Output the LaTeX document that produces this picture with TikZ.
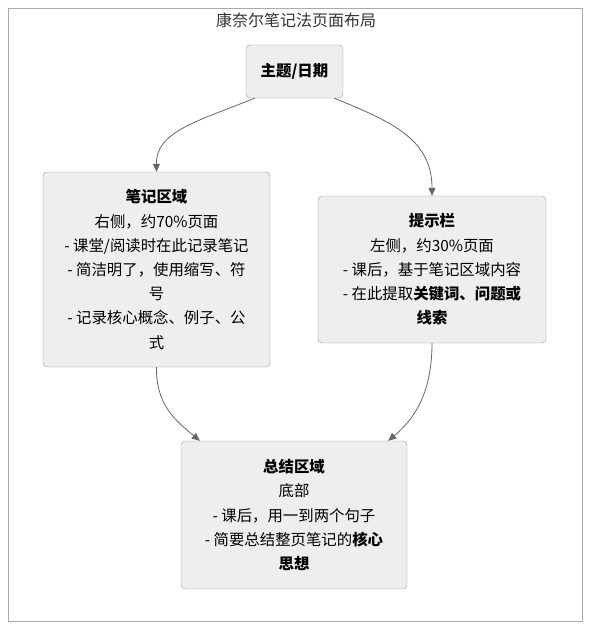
\documentclass[tikz,border=0pt]{standalone}
\usepackage{fontspec}
\setmainfont{Noto Sans CJK SC}
\usetikzlibrary{arrows.meta}
\definecolor{boxfill}{HTML}{EEEEEE}
\definecolor{boxline}{HTML}{999999}
\definecolor{framec}{HTML}{AAAAAA}
\definecolor{linec}{HTML}{666666}
\definecolor{titlec}{HTML}{333333}
\tikzset{
  box/.style={draw=boxline, fill=boxfill, rounded corners=4pt, align=center, inner sep=0pt,
    font=\fontsize{15.4}{24.2}\selectfont, text=black},
  arr/.style={draw=linec, line width=0.8pt, -{Triangle[length=8pt,width=7pt]}},
}
\begin{document}
\begin{tikzpicture}[x=1pt,y=-1pt]
\useasboundingbox (0,0) rectangle (596,643);
\draw[framec, line width=1pt] (8,8) rectangle (582,621);
\node[text=titlec, font=\fontsize{16}{18}\selectfont] (title) at (296,20) {康奈尔笔记法页面布局};
\node[box, minimum width=97pt, minimum height=53pt] (top) at (294.5,71.5) {\bfseries 主题/日期};
\node[box, minimum width=227pt, minimum height=195pt] (left) at (156.5,269.5)
 {\bfseries 笔记区域\\右侧，约70\%页面\\- 课堂/阅读时在此记录笔记\\- 简洁明了，使用缩写、符\\号\\- 记录核心概念、例子、公\\式};
\node[box, minimum width=228pt, minimum height=147pt] (right) at (432,269.5)
 {\bfseries 提示栏\\左侧，约30\%页面\\- 课后，基于笔记区域内容\\- 在此提取{\bfseries 关键词、问题或}\\{\bfseries 线索}};
\node[box, minimum width=226pt, minimum height=148pt] (bottom) at (294,515)
 {\bfseries 总结区域\\底部\\- 课后，用一到两个句子\\- 简要总结整页笔记的{\bfseries 核心}\\{\bfseries 思想}};
\draw[arr] ([xshift=9pt]top.south west) .. controls (195,122) and (156,132) .. (left.north);
\draw[arr] ([xshift=-9pt]top.south east) .. controls (393,122) and (432,140) .. (right.north);
\draw[arr] (left.south) .. controls (156,405) and (175,420) .. ([xshift=19pt]bottom.north west);
\draw[arr] (right.south) .. controls (432,395) and (413,420) .. ([xshift=-19pt]bottom.north east);
\end{tikzpicture}
\end{document}
